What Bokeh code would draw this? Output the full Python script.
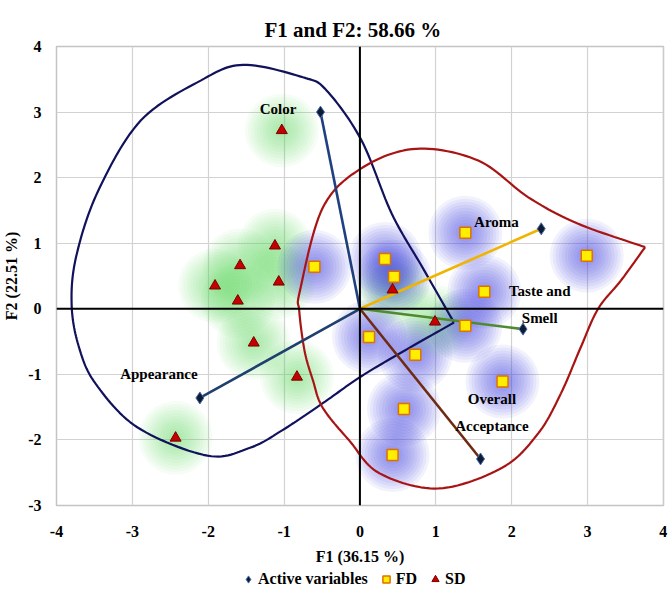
import numpy as np
from bokeh.plotting import figure
from bokeh.layouts import column
from bokeh.models import Range1d, FixedTicker, Span, Legend, LegendItem, ColumnDataSource
from bokeh.core.properties import value
from bokeh.embed import file_html
from bokeh.resources import INLINE

# ---------------- data ----------------
var_names = ["Color", "Aroma", "Taste and\nSmell", "Overall\nAcceptance", "Appearance"]
var_x = [-0.52, 2.39, 2.15, 1.59, -2.11]
var_y = [3.00, 1.22, -0.31, -2.29, -1.36]
var_colors = ["#1f3f7f", "#f0b400", "#4f8a2f", "#6e2a12", "#1f3f6f"]
label_x = [-1.08, 1.80, 2.37, 1.74, -2.65]
label_y = [3.04, 1.33, 0.07, -1.58, -0.99]

fd_x = [-0.60, 1.39, 2.99, 0.33, 0.45, 1.64, 1.39, 0.12, 0.73, 1.88, 0.58, 0.43]
fd_y = [0.64, 1.16, 0.81, 0.76, 0.49, 0.26, -0.26, -0.43, -0.70, -1.11, -1.53, -2.23]

sd_x = [-1.03, -1.12, -1.58, -1.91, -1.61, -1.07, -1.40, -0.83, -2.43, 0.43, 0.99]
sd_y = [2.72, 0.96, 0.66, 0.35, 0.12, 0.41, -0.52, -1.04, -1.97, 0.29, -0.20]

# outline of the SD group (starts and ends at its sharp corner)
sd_hull_x = [1.24, 0.83, 0.42, 0.02, -0.44, -0.75, -1.54, -2.10, -2.89, -3.45, -3.74, -3.80,
             -3.70, -3.48, -2.93, -2.01, -1.45, -1.02, -0.49, -0.01, 0.48, 1.24]
sd_hull_y = [-0.21, 0.62, 1.45, 2.57, 3.33, 3.53, 3.72, 3.48, 2.87, 1.80, 0.80, 0.05,
             -0.60, -1.15, -1.81, -2.24, -2.12, -1.85, -1.44, -1.05, -0.71, -0.21]
# outline of the FD group (starts and ends at its tip)
fd_hull_x = [3.76, 2.87, 2.22, 1.56, 0.74, 0.03, -0.49, -0.79, -0.80, -0.73, -0.62, -0.49,
             -0.14, 0.26, 1.04, 1.88, 2.35, 2.65, 2.91, 3.14, 3.44, 3.76]
fd_hull_y = [0.94, 1.30, 1.70, 2.26, 2.44, 2.15, 1.54, 0.28, -0.03, -0.64, -1.09, -1.51,
             -2.01, -2.51, -2.74, -2.42, -1.90, -1.29, -0.59, 0.00, 0.43, 0.94]

x_ticks = [-4, -3, -2, -1, 0, 1, 2, 3, 4]
y_ticks = [-3, -2, -1, 0, 1, 2, 3, 4]

SERIF = "Liberation Serif"


def smooth(xs, ys, n=14):
    xs = np.asarray(xs, float)
    ys = np.asarray(ys, float)
    P = np.column_stack([xs, ys])
    P = np.vstack([P[0], P, P[-1]])
    out = []
    t = np.linspace(0, 1, n, endpoint=False)
    for i in range(1, len(P) - 2):
        p0, p1, p2, p3 = P[i - 1], P[i], P[i + 1], P[i + 2]
        tt = t[:, None]
        seg = 0.5 * ((2 * p1) + (-p0 + p2) * tt + (2 * p0 - 5 * p1 + 4 * p2 - p3) * tt ** 2
                     + (-p0 + 3 * p1 - 3 * p2 + p3) * tt ** 3)
        out.append(seg)
    out.append(P[-2][None, :])
    out = np.vstack(out)
    return out[:, 0], out[:, 1]


p = figure(width=670, height=568, x_range=Range1d(-4, 4.002), y_range=Range1d(-3, 4),
           output_backend="svg", toolbar_location=None,
           min_border_left=55, min_border_right=7, min_border_top=46, min_border_bottom=63,
           title="F1 and F2: 58.66 %")
p.title.align = "left"
p.title.offset = 208
p.title.text_font = SERIF
p.title.text_font_size = "21px"
p.title.text_font_style = "bold"
p.title.text_color = "#000000"
p.title.standoff = 9

p.outline_line_color = "#c4c4c4"
p.outline_line_width = 1.5
p.background_fill_color = "white"
p.border_fill_color = "white"

for ax in (p.xaxis[0], p.yaxis[0]):
    ax.axis_line_color = None
    ax.major_tick_line_color = None
    ax.minor_tick_line_color = None
    ax.major_label_text_font = SERIF
    ax.major_label_text_font_style = "bold"
    ax.major_label_text_font_size = "16px"
    ax.major_label_text_color = "#000000"
    ax.axis_label_text_font = SERIF
    ax.axis_label_text_font_style = "bold"
    ax.axis_label_text_font_size = "16px"
    ax.axis_label_text_color = "#000000"

p.xaxis.ticker = FixedTicker(ticks=x_ticks)
p.yaxis.ticker = FixedTicker(ticks=y_ticks)
p.xaxis.major_label_overrides = {t: str(t) for t in x_ticks}
p.yaxis.major_label_overrides = {t: str(t) for t in y_ticks}
p.xaxis.axis_label = "F1 (36.15 %)"
p.yaxis.axis_label = "F2 (22.51 %)"
p.xaxis.major_label_standoff = 14
p.xaxis.axis_label_standoff = 8
p.yaxis.major_label_standoff = 9
p.yaxis.axis_label_standoff = 5

p.grid.grid_line_color = "#d2d2d2"
p.grid.grid_line_width = 1.2

# glows
glow_sizes = [74, 68, 62, 56, 50, 44, 38, 32, 26, 20, 14]
for s in glow_sizes:
    p.scatter(sd_x, sd_y, size=s, marker="circle", fill_color="#66e066", fill_alpha=0.06, line_color=None)
for s in glow_sizes:
    p.scatter(fd_x, fd_y, size=s, marker="circle", fill_color="#4a4ae0", fill_alpha=0.07, line_color=None)

# zero axes
p.add_layout(Span(location=0, dimension="height", line_color="black", line_width=2))
p.add_layout(Span(location=0, dimension="width", line_color="black", line_width=2))

# group outlines
bx, by = smooth(sd_hull_x, sd_hull_y)
p.line(bx, by, line_color="#12125c", line_width=2.2)
rx, ry = smooth(fd_hull_x, fd_hull_y)
p.line(rx, ry, line_color="#a81414", line_width=2.2)

# variable vectors
for vx, vy, c in zip(var_x, var_y, var_colors):
    p.line([0, vx], [0, vy], line_color=c, line_width=2.6)

VAR_STYLE = dict(marker="diamond", size=12, fill_color="#0c1c36", line_color="#4a6ea8", line_width=1)
FD_STYLE = dict(marker="square", size=11, fill_color="#ffee00", line_color="#e07000", line_width=1.5)
SD_STYLE = dict(marker="triangle", size=11, fill_color="#c40000", line_color="#7a0000", line_width=1)

p.scatter(var_x, var_y, **VAR_STYLE)
p.scatter(fd_x, fd_y, **FD_STYLE)
p.scatter(sd_x, sd_y, **SD_STYLE)

src = ColumnDataSource(dict(x=label_x, y=label_y, t=var_names))
p.text(x="x", y="y", text="t", source=src, text_font=value(SERIF), text_font_style="bold",
       text_font_size="15px", text_align="center", text_baseline="middle",
       text_line_height=1.7, text_color="#000000")

# legend strip under the chart (its frame is aligned with the chart's frame)
lf = figure(width=670, height=24, x_range=Range1d(0, 1), y_range=Range1d(0, 1),
            x_axis_location=None, y_axis_location=None,
            output_backend="svg", toolbar_location=None,
            min_border_left=0, min_border_right=0, min_border_top=0, min_border_bottom=0)
lf.grid.visible = False
lf.outline_line_color = None
lf.border_fill_color = "white"
lr_var = lf.scatter([5], [5], **VAR_STYLE)
lr_fd = lf.scatter([5], [5], **FD_STYLE)
lr_sd = lf.scatter([5], [5], **SD_STYLE)
legend = Legend(items=[LegendItem(label="Active variables", renderers=[lr_var]),
                       LegendItem(label="FD", renderers=[lr_fd]),
                       LegendItem(label="SD", renderers=[lr_sd])],
                orientation="horizontal", location=(183, 2),
                label_text_font=SERIF, label_text_font_style="bold", label_text_font_size="16px",
                label_text_color="#000000",
                glyph_width=18, glyph_height=22, label_standoff=1, spacing=9,
                padding=0, margin=0, border_line_color=None, background_fill_alpha=0,
                label_height=15)
lf.add_layout(legend)

open("out.html", "w").write(file_html(column(p, lf), INLINE))
